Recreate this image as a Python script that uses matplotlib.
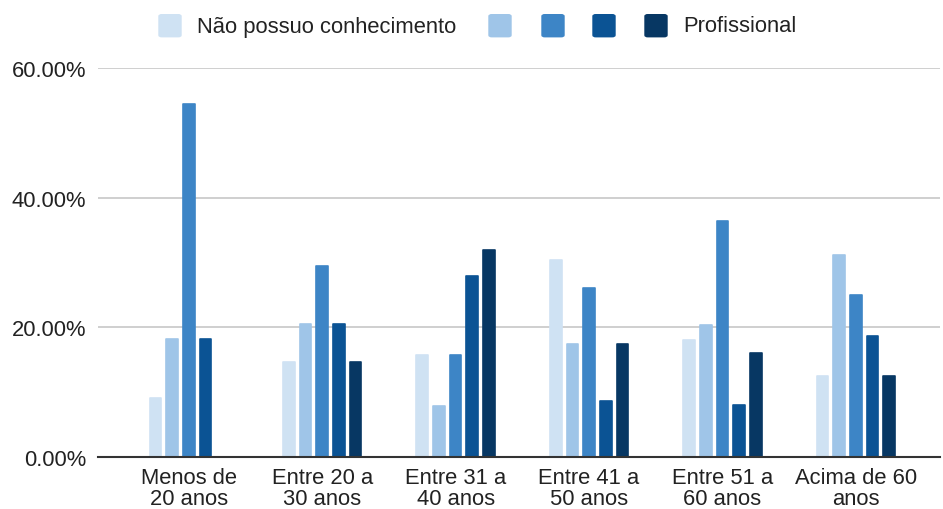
import numpy as np
import matplotlib
matplotlib.use("Agg")
import matplotlib.pyplot as plt
from matplotlib.patches import FancyBboxPatch
from matplotlib.ticker import FuncFormatter

plt.rcParams['font.family'] = ['Liberation Sans', 'DejaVu Sans']

categories = ['Menos de\n20 anos', 'Entre 20 a\n30 anos', 'Entre 31 a\n40 anos',
              'Entre 41 a\n50 anos', 'Entre 51 a\n60 anos', 'Acima de 60\nanos']
series_names = ['Não possuo conhecimento', '', '', '', 'Profissional']
s1 = [9.09, 14.71, 15.79, 30.43, 18.0, 12.5]
s2 = [18.18, 20.59, 7.89, 17.39, 20.4, 31.25]
s3 = [54.55, 29.41, 15.79, 26.09, 36.4, 25.0]
s4 = [18.18, 20.59, 28.0, 8.70, 8.0, 18.75]
s5 = [0.0, 14.71, 32.0, 17.39, 16.0, 12.5]
yticks = [0, 20, 40, 60]
colors = ['#cfe2f3', '#9fc5e8', '#3d85c6', '#0b5394', '#073763']

W, H = 943, 510
fig = plt.figure(figsize=(W / 100, H / 100), dpi=100)
ax = fig.add_axes([98 / W, 1 - 458 / H, (940 - 98) / W, (458 - 69.3) / H])

x = np.arange(len(categories))
step, bw = 0.125, 0.088
for i, vals in enumerate([s1, s2, s3, s4, s5]):
    ax.bar(x + (i - 2) * step, vals, width=bw, color=colors[i], edgecolor=colors[i],
           linewidth=1.2, joinstyle='round', zorder=3)

ax.set_xlim(-0.68, 5.63)
ax.set_ylim(0, 60)
ax.set_yticks(yticks)
ax.yaxis.set_major_formatter(FuncFormatter(lambda v, p: f'{v:.2f}%'))
ax.set_xticks(x)
ax.set_xticklabels(categories, linespacing=1.0)
ax.tick_params(axis='both', length=0, labelsize=15.8, colors='#222222')
ax.tick_params(axis='y', pad=8.5)
ax.tick_params(axis='x', pad=7)
ax.grid(axis='y', color='#cccccc', linewidth=1.3, zorder=0)
for s in ['top', 'right', 'left']:
    ax.spines[s].set_visible(False)
ax.spines['bottom'].set_color('#333333')
ax.spines['bottom'].set_linewidth(1.5)
ax.spines['bottom'].set_zorder(4)

# legend (manual, to keep the spacing of the original)
sq_left = [159, 489, 542, 593, 645]
for i, name in enumerate(series_names):
    fig.add_artist(FancyBboxPatch((sq_left[i] / W, 1 - 37.7 / H), 22 / W, 22 / H,
                                  boxstyle='round,pad=0,rounding_size=0.003',
                                  transform=fig.transFigure, color=colors[i]))
    if name:
        fig.text((sq_left[i] + 38) / W, 1 - 27 / H, name, fontsize=15.8,
                 color='#222222', va='center', ha='left')

fig.savefig('out.png', dpi=100)
